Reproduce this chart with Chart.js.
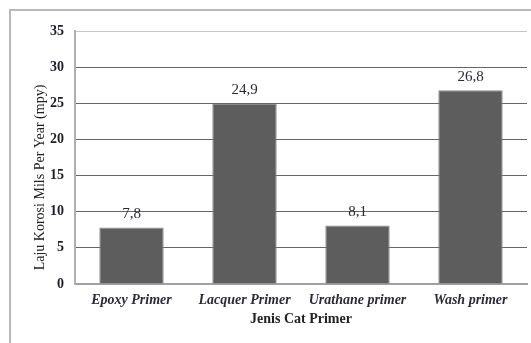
<!DOCTYPE html>
<html>
<head>
<meta charset="utf-8">
<script src="https://cdn.jsdelivr.net/npm/chart.js@4"></script>
<style>
  html, body { margin: 0; padding: 0; background: #fff; }
  #wrap { position: relative; width: 531px; height: 343px; }
  #frame { position: absolute; left: 9px; top: 9px; right: 0; bottom: 0;
           border-top: 2px solid #b8b8b8; border-left: 2px solid #b8b8b8; }
  canvas { position: absolute; left: 0; top: 0; }
</style>
</head>
<body>
<div id="wrap">
  <div id="frame"></div>
  <canvas id="c" width="531" height="343"></canvas>
</div>
<script>
const categories = ["Epoxy Primer", "Lacquer Primer", "Urathane primer", "Wash primer"];
const values = [7.8, 24.9, 8.1, 26.8];
const valueLabels = ["7,8", "24,9", "8,1", "26,8"];
const yTicks = [0, 5, 10, 15, 20, 25, 30, 35];
const yTitle = "Laju Korosi Mils Per Year (mpy)";
const xTitle = "Jenis Cat Primer";

const SERIF = "'Liberation Serif', 'Times New Roman', serif";

const valueLabelPlugin = {
  id: 'valueLabels',
  afterDatasetsDraw(chart) {
    const ctx = chart.ctx;
    const meta = chart.getDatasetMeta(0);
    ctx.save();
    ctx.font = "15px " + SERIF;
    ctx.fillStyle = "#2a2a35";
    ctx.textAlign = "center";
    ctx.textBaseline = "bottom";
    meta.data.forEach((bar, i) => {
      ctx.fillText(valueLabels[i], bar.x, bar.y - 6);
    });
    ctx.restore();
  }
};

const yTitlePlugin = {
  id: 'yTitle',
  afterDraw(chart) {
    const ctx = chart.ctx;
    const area = chart.chartArea;
    ctx.save();
    ctx.translate(40, (area.top + area.bottom) / 2 + 20);
    ctx.rotate(-Math.PI / 2);
    ctx.font = "14px " + SERIF;
    ctx.fillStyle = "#222";
    ctx.textAlign = "center";
    ctx.textBaseline = "middle";
    ctx.fillText(yTitle, 0, 0);
    ctx.restore();
  }
};

new Chart(document.getElementById('c'), {
  type: 'bar',
  data: {
    labels: categories,
    datasets: [{
      data: values,
      backgroundColor: '#5d5d5d',
      borderColor: '#8c8c8c',
      borderWidth: 1,
      categoryPercentage: 1.0,
      barPercentage: 0.57
    }]
  },
  options: {
    responsive: false,
    animation: false,
    devicePixelRatio: 1,
    layout: { padding: { top: 31, right: 4, left: 0, bottom: 0 } },
    plugins: { legend: { display: false }, tooltip: { enabled: false } },
    scales: {
      x: {
        grid: { display: false, drawTicks: false },
        border: { display: true, color: '#a0a0a0', width: 2 },
        ticks: { font: { family: SERIF, size: 14, style: 'italic', weight: 'bold' }, color: '#2a2a3a', padding: 8 },
        title: { display: true, text: xTitle, font: { family: SERIF, size: 14, weight: 'bold' }, color: '#222',
                 padding: { top: 0, bottom: 15 } },
        afterFit(scale) { scale.height = 59; }
      },
      y: {
        min: 0, max: 35,
        afterBuildTicks(scale) { scale.ticks = yTicks.map(v => ({ value: v })); },
        grid: {
          drawTicks: false,
          color: ctx => (ctx.tick && ctx.tick.value === 35) ? '#c4c4c4' : '#666666',
          lineWidth: 1
        },
        border: { display: true, color: '#b0b0b0', width: 2 },
        ticks: { font: { family: SERIF, size: 14, weight: 'bold' }, color: '#1e1e28', padding: 11 },
        afterFit(scale) { scale.width = 75; }
      }
    }
  },
  plugins: [valueLabelPlugin, yTitlePlugin]
});
</script>
</body>
</html>
